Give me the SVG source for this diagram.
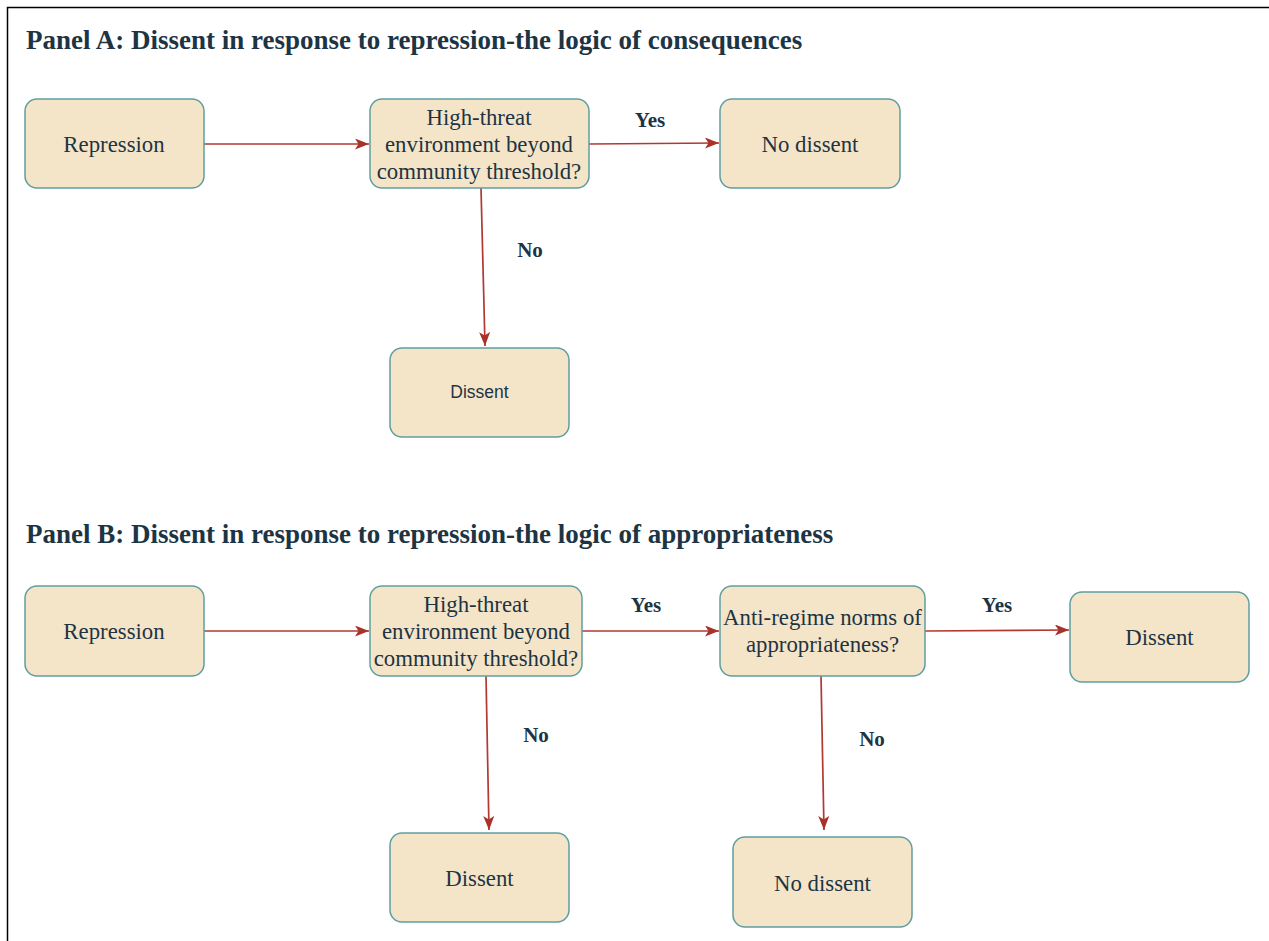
<svg xmlns="http://www.w3.org/2000/svg" width="1269" height="941" viewBox="0 0 1269 941">
<style>
.node rect{fill:#f5e5c8;stroke:#5f9ea0;stroke-width:1.5}
.t{font-family:"Liberation Serif","Times New Roman",serif;font-size:22.8px;fill:#1d3444;text-anchor:middle}
.s{font-family:"Liberation Sans",Arial,sans-serif;font-size:17.5px;fill:#1d3444;text-anchor:middle}
.title{font-family:"Liberation Serif","Times New Roman",serif;font-size:27px;font-weight:bold;fill:#1d3444}
.lbl{font-family:"Liberation Serif","Times New Roman",serif;font-size:21px;font-weight:bold;fill:#1d3444;text-anchor:middle}
.edge{fill:none;stroke:#b03a32;stroke-width:1.7;marker-end:url(#arr)}
</style>
<defs>
<marker id="arr" markerUnits="userSpaceOnUse" markerWidth="15" markerHeight="12" refX="14" refY="5.5" orient="auto">
<path d="M0,0 L14,5.5 L0,11 L3.5,5.5 z" fill="#a8322a"/>
</marker>
</defs>
<rect x="0" y="0" width="1269" height="941" fill="#ffffff"/>
<path d="M7.5,941 V7.5 H1269" fill="none" stroke="#000" stroke-width="1.5"/>
<text class="title" x="26" y="49">Panel A: Dissent in response to repression-the logic of consequences</text>
<text class="title" x="26" y="543">Panel B: Dissent in response to repression-the logic of appropriateness</text>

<g id="connectors">
<path class="edge" d="M204,144 H369"/>
<path class="edge" d="M589,144 L719,143"/>
<path class="edge" d="M481,188 L485,346"/>
<path class="edge" d="M204,631 H369"/>
<path class="edge" d="M582,631 H719"/>
<path class="edge" d="M925,631 L1069,630"/>
<path class="edge" d="M486,676 L489,830"/>
<path class="edge" d="M821,676 L824,830"/>
<text class="lbl" x="650" y="127">Yes</text>
<text class="lbl" x="530" y="257">No</text>
<text class="lbl" x="646" y="612">Yes</text>
<text class="lbl" x="997" y="612">Yes</text>
<text class="lbl" x="536" y="742">No</text>
<text class="lbl" x="872" y="746">No</text>
</g>

<g id="a-repression" class="node"><rect x="25" y="99" width="179" height="89" rx="12"/><text class="t" x="114" y="152">Repression</text></g>
<g id="a-threat" class="node"><rect x="370" y="99" width="219" height="89" rx="12"/>
<text class="t" x="479" y="125">High-threat</text><text class="t" x="479" y="152">environment beyond</text><text class="t" x="479" y="179">community threshold?</text></g>
<g id="a-nodissent" class="node"><rect x="720" y="99" width="180" height="89" rx="12"/><text class="t" x="810" y="152">No dissent</text></g>
<g id="a-dissent" class="node"><rect x="390" y="348" width="179" height="89" rx="12"/><text class="s" x="479.5" y="398">Dissent</text></g>

<g id="b-repression" class="node"><rect x="25" y="586" width="179" height="90" rx="12"/><text class="t" x="114" y="639">Repression</text></g>
<g id="b-threat" class="node"><rect x="370" y="586" width="212" height="90" rx="12"/>
<text class="t" x="476" y="612">High-threat</text><text class="t" x="476" y="639">environment beyond</text><text class="t" x="476" y="666">community threshold?</text></g>
<g id="b-norms" class="node"><rect x="720" y="586" width="205" height="90" rx="12"/>
<text class="t" x="822.5" y="625">Anti-regime norms of</text><text class="t" x="822.5" y="652">appropriateness?</text></g>
<g id="b-dissent-yes" class="node"><rect x="1070" y="592" width="179" height="90" rx="12"/><text class="t" x="1159.5" y="645">Dissent</text></g>
<g id="b-dissent-no" class="node"><rect x="390" y="833" width="179" height="89" rx="12"/><text class="t" x="479.5" y="886">Dissent</text></g>
<g id="b-nodissent" class="node"><rect x="733" y="837" width="179" height="90" rx="12"/><text class="t" x="822.5" y="891">No dissent</text></g>
</svg>
